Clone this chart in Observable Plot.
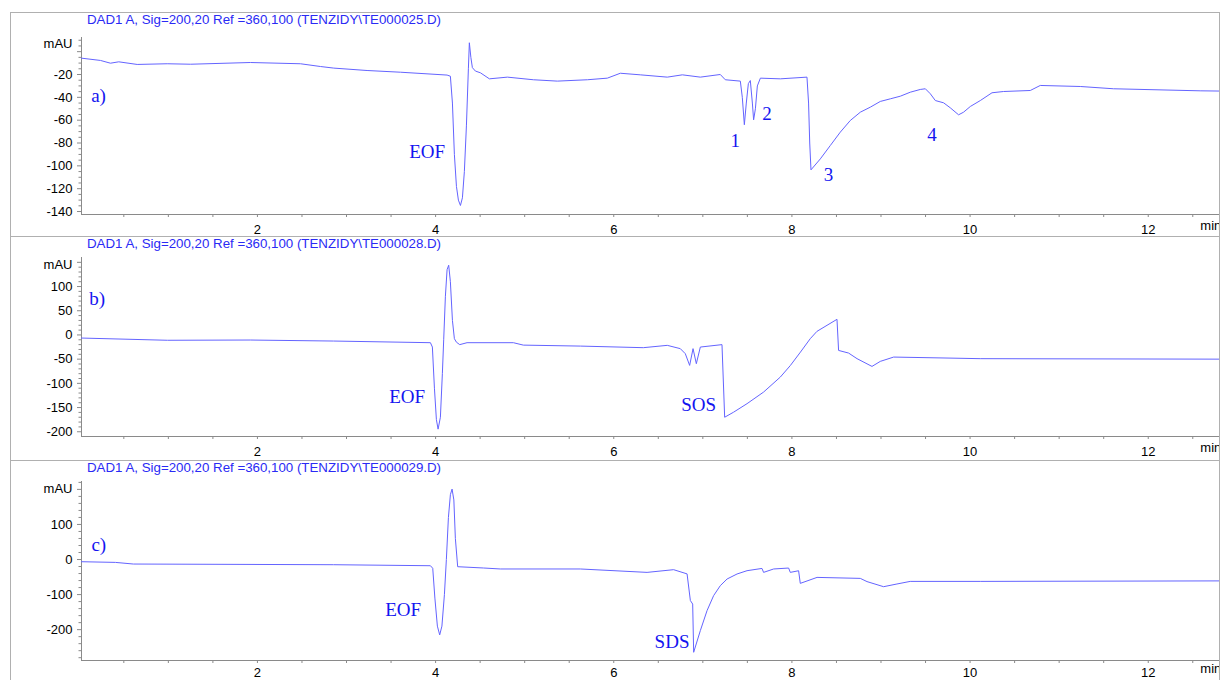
<!DOCTYPE html>
<html><head><meta charset="utf-8">
<script src="https://cdn.jsdelivr.net/npm/d3@7"></script>
<script src="https://cdn.jsdelivr.net/npm/@observablehq/plot@0.6"></script>
<style>
body{margin:0;background:#fff}
#wrap{position:relative;width:1220px;height:680px;overflow:hidden;background:#fff}
.panel{position:absolute;left:0}
.title{position:absolute;left:87px;font:13.3px 'Liberation Sans',Arial,sans-serif;line-height:14px;color:#2a2af5;white-space:pre}
.hl{position:absolute;left:10px;width:1210px;height:0;border-top:1px solid #b0b0b0}
.vl{position:absolute;top:12px;height:668px;width:0;border-left:1px solid #b0b0b0}
</style></head>
<body><div id="wrap"></div>
<script>
// ---- data (time in min, signal in mAU) ----
const titles = [
  "DAD1 A, Sig=200,20 Ref =360,100 (TENZIDY\\TE000025.D)",
  "DAD1 A, Sig=200,20 Ref =360,100 (TENZIDY\\TE000028.D)",
  "DAD1 A, Sig=200,20 Ref =360,100 (TENZIDY\\TE000029.D)"
];
const traceA = [[0.025,-5.7],[0.238,-7.7],[0.35,-10.1],[0.443,-8.9],[0.65,-11.2],[0.987,-10.6],[1.25,-11],[1.921,-9.5],[2.483,-10.6],[2.707,-13],[2.857,-14.4],[3.231,-16.5],[3.605,-18],[4.129,-20.5],[4.166,-21.5],[4.189,-45],[4.211,-90],[4.234,-118],[4.256,-130],[4.279,-134.7],[4.301,-128],[4.323,-105],[4.346,-65],[4.368,-15],[4.379,7.8],[4.396,-5],[4.413,-14],[4.447,-17],[4.503,-18.5],[4.604,-23.8],[4.806,-22.3],[5.098,-24.6],[5.367,-25.8],[5.704,-24.6],[5.928,-23.2],[6.074,-18.9],[6.298,-20.3],[6.601,-22.3],[6.77,-20.3],[6.972,-22.3],[7.196,-20],[7.252,-24.6],[7.421,-25.8],[7.443,-40],[7.466,-64],[7.488,-45],[7.511,-28],[7.533,-25.3],[7.556,-45],[7.57,-59.7],[7.59,-50],[7.612,-30],[7.646,-23.2],[7.87,-23.8],[8.169,-22.3],[8.187,-45],[8.2,-80],[8.214,-103.5],[8.319,-93.9],[8.431,-82.2],[8.543,-70.5],[8.655,-60.3],[8.768,-53],[8.88,-48.6],[8.992,-43.6],[9.105,-41.3],[9.217,-39],[9.329,-35.5],[9.441,-33.1],[9.498,-32.5],[9.554,-36.9],[9.61,-42.8],[9.703,-44.8],[9.778,-49.2],[9.871,-55.3],[9.927,-53],[10.003,-48],[10.115,-42.8],[10.246,-36],[10.376,-34.9],[10.676,-34],[10.788,-29.6],[11.237,-30.5],[11.611,-32.5],[12.583,-34.3],[12.797,-34.5]];
const traceB = [[0.025,-6.4],[0.99,-11],[1.92,-10.5],[2.853,-12.6],[3.942,-16],[3.964,-25],[3.987,-110],[4.009,-175],[4.028,-194.6],[4.054,-170],[4.076,-80],[4.091,-10],[4.11,80],[4.129,135],[4.147,144],[4.166,110],[4.189,30],[4.211,-7.7],[4.234,-15],[4.271,-20],[4.353,-16],[4.873,-16],[4.985,-21],[5.625,-23],[6.332,-26.3],[6.601,-21.5],[6.747,-28.3],[6.803,-38.7],[6.852,-62.9],[6.89,-28.3],[6.927,-59.4],[6.972,-25],[7.215,-20],[7.245,-170],[7.346,-159.5],[7.496,-142],[7.682,-118],[7.87,-87],[7.983,-63],[8.096,-35.4],[8.206,-7.7],[8.281,7.4],[8.394,19.9],[8.506,32.3],[8.524,-32],[8.636,-37.4],[8.731,-49],[8.899,-65],[8.992,-54.6],[9.142,-45.7],[9.741,-47.7],[10.114,-49],[12.797,-50]];
const traceC = [[0.025,-6.3],[0.406,-8.2],[0.608,-12.9],[2.853,-14.8],[3.942,-17.7],[3.968,-25],[3.992,-110],[4.02,-190],[4.046,-215],[4.071,-190],[4.099,-100],[4.121,0],[4.144,120],[4.166,185],[4.185,200.8],[4.205,170],[4.222,60],[4.248,-20.5],[4.54,-24.2],[4.727,-27],[5.625,-27],[6.374,-36.7],[6.672,-29],[6.823,-41],[6.86,-117],[6.886,-127],[6.897,-264.6],[6.972,-202.8],[7.047,-145.9],[7.121,-103],[7.196,-74.6],[7.272,-55.6],[7.384,-41.3],[7.496,-31.9],[7.664,-25.4],[7.682,-36.7],[7.795,-27],[7.963,-24.3],[7.982,-36.7],[8.075,-32],[8.094,-68],[8.282,-51],[8.768,-53.8],[8.843,-63],[9.029,-77.5],[9.179,-69.8],[9.328,-62.4],[10.114,-62.4],[12.797,-61]];
const labelsA = [["a)",0.216,-38.4],["EOF",3.905,-88],["1",7.363,-77.8],["2",7.72,-54.4],["3",8.412,-107.6],["4",9.572,-72.8]];
const labelsB = [["b)",0.2,73.7],["EOF",3.68,-128.5],["SOS",6.953,-144]];
const labelsC = [["c)",0.219,41.3],["EOF",3.635,-143],["SDS",6.654,-236]];
const xMajor = [2,4,6,8,10,12];
const yLabelsA = [-140,-120,-100,-80,-60,-40,-20];
const yLabelsB = [-200,-150,-100,-50,0,50,100];
const yLabelsC = [-200,-100,0,100];

const X0 = 0.025, X1 = 12.8;
const xMinor = d3.range(0.5, 12.8, 0.5).filter(d => !xMajor.includes(d));

const panels = [
  {top:12, height:224, mt:25, mb:22, pad:7, yDomain:[-142.6,12.4], trace:traceA, labels:labelsA, yLabels:yLabelsA, majorStep:20, minorStep:5, mAU:6.9},
  {top:236, height:224, mt:21, mb:24, pad:7, yDomain:[-209.8,160], trace:traceB, labels:labelsB, yLabels:yLabelsB, majorStep:50, minorStep:10, mAU:145.5},
  {top:460, height:220, mt:21, mb:20, pad:4, yDomain:[-288,222.5], trace:traceC, labels:labelsC, yLabels:yLabelsC, majorStep:100, minorStep:20, mAU:200.9}
];

const wrap = document.getElementById('wrap');
const axisColor = '#8a8a8a';

panels.forEach((p, i) => {
  const data = p.trace.map(([t, v]) => ({t, v}));
  const labs = p.labels.map(([s, t, v]) => ({s, t, v}));
  const lo = Math.ceil(p.yDomain[0] / p.minorStep) * p.minorStep;
  const yMinor = d3.range(lo, p.yDomain[1], p.minorStep).filter(d => Math.abs(d % p.majorStep) > 1e-9);
  const loM = Math.ceil(p.yDomain[0] / p.majorStep) * p.majorStep;
  const yMajor = d3.range(loM, p.yDomain[1], p.majorStep);
  const chart = Plot.plot({
    width: 1220, height: p.height,
    marginLeft: 81, marginRight: 1, marginTop: p.mt, marginBottom: p.mb,
    x: {domain: [X0, X1], label: null},
    y: {domain: p.yDomain, label: null},
    style: {fontFamily: "'Liberation Sans', Arial, sans-serif", fontSize: "13px", background: "transparent", overflow: "visible"},
    marks: [
      Plot.axisX(xMinor, {tickSize: 3, tickFormat: () => "", stroke: axisColor, label: null}),
      Plot.axisX(xMajor, {tickSize: 3, tickPadding: p.pad, tickFormat: d => String(d), stroke: axisColor, fill: "black", fontSize: 13, label: null}),
      Plot.axisY(yMinor, {tickSize: 2.5, tickFormat: () => "", stroke: axisColor, label: null}),
      Plot.axisY(yMajor, {tickSize: 4, tickPadding: 5, tickFormat: d => p.yLabels.includes(d) ? String(d) : "", stroke: axisColor, fill: "black", fontSize: 13, label: null}),
      Plot.ruleX([X0], {stroke: axisColor}),
      Plot.ruleY([p.yDomain[0]], {stroke: axisColor}),
      Plot.text(["min"], {x: 12.585, frameAnchor: "bottom", dy: 8 + p.pad, textAnchor: "start", fill: "black", fontSize: 13}),
      Plot.text(["mAU"], {x: X0, y: p.mAU, dx: -9, textAnchor: "end", fill: "black", fontSize: 13}),
      Plot.line(data, {x: "t", y: "v", stroke: "#6464ff", strokeWidth: 1, clip: true}),
      Plot.text(labs, {x: "t", y: "v", text: "s", fill: "#1414f0", fontSize: 19, fontFamily: "'Liberation Serif', 'Times New Roman', serif"})
    ]
  });
  chart.classList.add('panel');
  chart.style.top = p.top + 'px';
  wrap.appendChild(chart);
  const t = document.createElement('div');
  t.className = 'title';
  t.style.top = (p.top + 1) + 'px';
  t.textContent = titles[i];
  wrap.appendChild(t);
  const hl = document.createElement('div');
  hl.className = 'hl';
  hl.style.top = p.top + 'px';
  wrap.appendChild(hl);
});
[10, 1219].forEach(x => {
  const v = document.createElement('div');
  v.className = 'vl';
  v.style.left = x + 'px';
  wrap.appendChild(v);
});
</script></body></html>
